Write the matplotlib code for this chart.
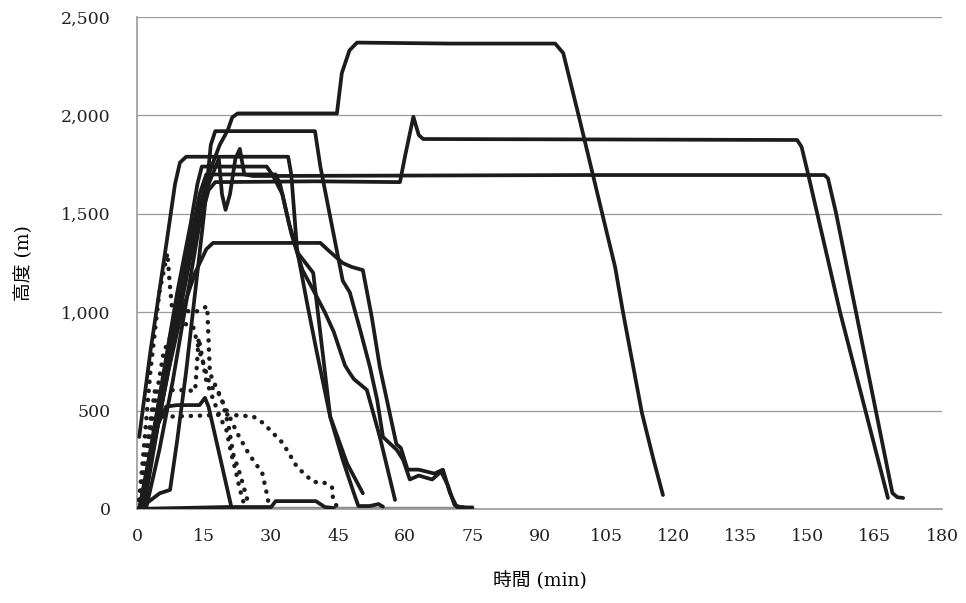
import matplotlib
matplotlib.use('Agg')
import matplotlib.pyplot as plt

# ---- data (minutes, metres) ----
# solid black flights
t_a = [1, 4, 7, 10, 13, 16, 18.5, 20.3, 21.3, 22.5, 44.7, 45.8, 47.5, 49.2, 70, 93.5, 95.3, 99, 104.2, 106.9, 108.7, 112.9, 115.5, 117.6]
h_a = [0, 380, 760, 1130, 1450, 1700, 1850, 1925, 1990, 2010, 2010, 2215, 2330, 2370, 2365, 2365, 2317, 1976, 1484, 1230, 996, 488, 250, 71]

t_b = [2, 5, 8, 11, 14, 16, 17.5, 40, 58.8, 60, 61.8, 63, 64, 100, 147.6, 148.6, 150, 157.2, 167.9]
h_b = [0, 300, 650, 1050, 1450, 1620, 1661, 1665, 1661, 1800, 1993, 1900, 1880, 1878, 1875, 1840, 1707, 1000, 56]

t_c = [1, 4, 7, 10, 13, 16, 18.3, 19, 19.8, 20.8, 22, 23, 24, 26, 100, 153.7, 154.5, 156.3, 168.9, 170, 171.3]
h_c = [0, 350, 700, 1050, 1400, 1650, 1780, 1600, 1520, 1600, 1780, 1830, 1700, 1692, 1697, 1697, 1680, 1504, 81, 60, 56]

t_d = [1.5, 2.2, 5.1, 7.4, 9, 11, 13, 15, 16.5, 17.5, 39.8, 41, 46, 47.6, 49.9, 52.1, 53.7, 55, 58.1, 59.5, 61, 63, 66, 68, 69.5, 71, 72.5, 75]
h_d = [0, 30, 80, 97, 350, 700, 1100, 1500, 1850, 1920, 1920, 1740, 1160, 1100, 910, 720, 554, 366, 300, 250, 150, 170, 150, 190, 120, 20, 8, 8]

t_e = [0.5, 3, 6.7, 8.5, 9.6, 11, 33.8, 34.5, 35.8, 38, 40, 43.2, 46, 48.5, 49.5, 52, 54, 55]
h_e = [366, 800, 1367, 1650, 1760, 1790, 1790, 1700, 1316, 1050, 820, 468, 250, 80, 15, 15, 25, 12]

t_f = [0.5, 3, 6, 9, 12, 13.5, 14.5, 29, 30.5, 32.5, 34.5, 37, 39.4, 42, 44, 46.5, 47.6, 48.5, 51.4, 54.3, 57.7]
h_f = [0, 300, 700, 1100, 1450, 1650, 1740, 1740, 1690, 1600, 1400, 1214, 1113, 1000, 900, 730, 690, 660, 605, 366, 46]

t_g = [1.5, 4.5, 8, 11, 14, 15.5, 31, 32, 34, 36, 39.4, 43.2, 47, 50.5]
h_g = [0, 400, 850, 1250, 1600, 1700, 1700, 1650, 1450, 1300, 1200, 470, 230, 80]

t_h = [1, 4, 7, 10, 13, 15.5, 17, 41, 43, 46, 48, 50.5, 52.5, 54.3, 58, 59, 60.5, 63, 66.5, 68.4, 70, 71.5, 73]
h_h = [0, 350, 700, 1000, 1200, 1320, 1352, 1352, 1310, 1250, 1230, 1214, 975, 720, 330, 310, 200, 200, 180, 200, 80, 10, 10]

t_i = [0.5, 2.5, 4.5, 6.5, 9, 14, 15.2, 16, 21.2]
h_i = [0, 200, 420, 520, 528, 528, 565, 520, 0]

t_j = [0, 10, 20, 30, 31, 40, 42, 44]
h_j = [0, 5, 10, 10, 40, 40, 10, 5]

# dotted flights
t_p = [0.3, 1.5, 3, 5, 6.8, 7.3, 7.8, 10, 13, 15.7, 16.3, 19, 20.5, 21.5, 23, 24.5, 25]
h_p = [0, 300, 700, 1100, 1300, 1150, 1030, 1010, 1000, 1030, 690, 554, 420, 280, 180, 60, 20]

t_q = [0.5, 2, 4, 9, 13, 13.8, 14.5, 15.5, 17, 18.5, 20, 21, 22, 23, 24]
h_q = [0, 300, 600, 605, 600, 870, 780, 650, 560, 470, 400, 290, 200, 100, 20]

t_r = [0.2, 1.5, 3, 5, 8, 15, 20, 26, 28.2, 32.6, 35.8, 39.4, 41.6, 43.6, 43.8, 44.7]
h_r = [0, 200, 400, 470, 470, 475, 480, 470, 437, 335, 213, 137, 137, 112, 61, 10]

t_s = [0.8, 3, 6, 9, 12.5, 14, 16.5, 18, 22.4, 25, 28, 29, 29.5]
h_s = [0, 400, 800, 950, 930, 800, 620, 600, 386, 280, 183, 81, 20]

# grey ground line
t_z = [0, 75]
h_z = [0, 0]

x_ticks = list(range(0, 181, 15))
y_ticks = [0, 500, 1000, 1500, 2000, 2500]

# ---- plot ----
plt.rcParams['font.family'] = ['DejaVu Serif', 'Noto Sans CJK JP']

fig = plt.figure(figsize=(9.66, 6.03), dpi=100)
ax = fig.add_axes([0.1418, 0.1559, 0.8334, 0.8159])

ax.plot(t_z, h_z, color='#8a8a8a', lw=3.2, solid_capstyle='butt', zorder=2)

black = '#1c1c1c'
for t, h in [(t_a, h_a), (t_b, h_b), (t_c, h_c), (t_d, h_d), (t_e, h_e),
             (t_f, h_f), (t_g, h_g), (t_h, h_h), (t_i, h_i), (t_j, h_j)]:
    ax.plot(t, h, color=black, lw=2.7, solid_joinstyle='round',
            solid_capstyle='round', zorder=3)

for t, h in [(t_p, h_p), (t_q, h_q), (t_r, h_r), (t_s, h_s)]:
    ax.plot(t, h, color=black, lw=3.2, linestyle=(0, (0.05, 2.0)),
            dash_capstyle='round', zorder=3)

ax.set_xlim(0, 180)
ax.set_ylim(0, 2500)
ax.set_xticks(x_ticks)
ax.set_yticks(y_ticks)
ax.set_yticklabels(['{:,}'.format(v) for v in y_ticks])
ax.tick_params(axis='both', length=0, labelsize=12.5, labelcolor='#222222')
ax.tick_params(axis='y', pad=19)
ax.tick_params(axis='x', pad=14)

ax.grid(axis='y', color='#9a9a9a', lw=0.9, zorder=1)
for side in ['top', 'right']:
    ax.spines[side].set_visible(False)
for side in ['left', 'bottom']:
    ax.spines[side].set_color('#9a9a9a')
    ax.spines[side].set_linewidth(1.2)

ax.set_xlabel('時間 (min)', fontsize=13.5, labelpad=19)
ax.set_ylabel('高度 (m)', fontsize=13.5, labelpad=20)

fig.savefig('out.png', dpi=100)
